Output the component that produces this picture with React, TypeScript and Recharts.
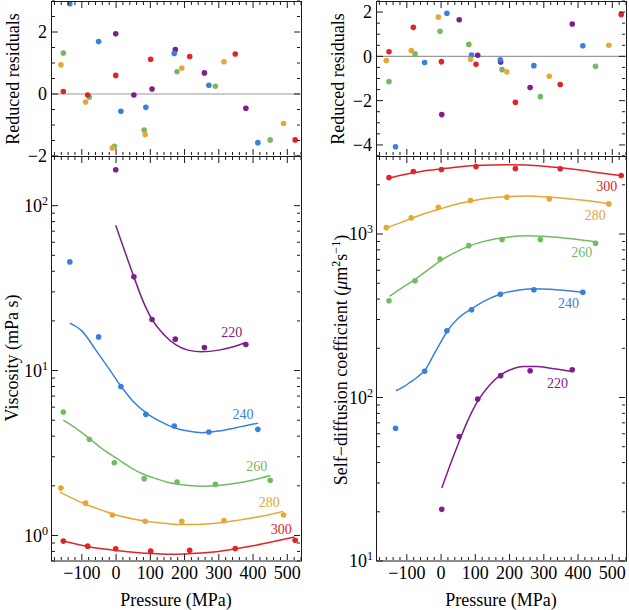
import React from 'react'
import { ComposedChart, Line, Scatter, XAxis, YAxis, ReferenceLine, ReferenceDot } from 'recharts'

// Viscosity / self-diffusion vs pressure at 220-300 K, with reduced residuals on top.

const FONT = "'Liberation Serif', 'DejaVu Serif', serif"
const INK = '#1a1a1a'
const W = 629
const H = 610

const temps = ['220', '240', '260', '280', '300']
const colors = ['#7d1e8a', '#3b7fdc', '#73bb62', '#e6a733', '#e2232a']

// ---- viscosity (mPa s) ----
const viscP220 = [-1, 52, 105, 173, 258, 379]
const viscV220 = [165, 37, 20.4, 15.5, 13.8, 14.4]
const viscR220 = [1.94, -0.03, 0.16, 1.43, 0.68, -0.46]
const viscP240 = [-135, -51, 14, 87, 170, 271, 414]
const viscV240 = [45.6, 16.0, 8.0, 5.42, 4.61, 4.24, 4.4]
const viscR240 = [2.91, 1.69, -0.56, -0.43, 1.31, 0.28, -1.57]
const viscP260 = [-154, -78, -5, 82, 178, 290, 450]
const viscV260 = [5.61, 3.83, 2.76, 2.21, 2.11, 2.04, 2.16]
const viscR260 = [1.32, -0.1, -1.69, -1.16, 0.72, 0.25, -1.48]
const viscP280 = [-161, -89, -11, 85, 192, 315, 489]
const viscV280 = [1.94, 1.57, 1.33, 1.22, 1.22, 1.23, 1.33]
const viscR280 = [0.945, -0.26, -1.74, -1.31, 0.84, 1.04, -0.95]
const viscP300 = [-154, -83, -1, 101, 215, 348, 523]
const viscV300 = [0.924, 0.861, 0.83, 0.803, 0.814, 0.834, 0.936]
const viscR300 = [0.08, -0.03, 0.6, 1.12, 1.21, 1.29, -1.48]

// fitted curves
const viscFitP220 = [-1, 20, 50, 80, 105, 140, 175, 210, 250, 300, 340, 379]
const viscFitV220 = [76, 57, 38, 26, 20.4, 16.5, 14.3, 13.3, 13.0, 13.3, 13.9, 14.8]
const viscFitP240 = [-135, -100, -60, -20, 15, 50, 90, 130, 170, 210, 250, 300, 350, 415]
const viscFitV240 = [19.4, 17.4, 13.4, 10.2, 8.0, 6.5, 5.5, 4.9, 4.5, 4.3, 4.2, 4.3, 4.5, 4.8]
const viscFitP260 = [-154, -120, -80, -40, 0, 40, 80, 120, 160, 200, 245, 300, 350, 400, 451]
const viscFitV260 = [5.0, 4.5, 3.9, 3.35, 2.95, 2.6, 2.35, 2.2, 2.08, 2.02, 1.99, 2.01, 2.07, 2.17, 2.31]
const viscFitP280 = [-164, -120, -80, -40, 0, 50, 100, 150, 200, 250, 300, 350, 400, 450, 488]
const viscFitV280 = [1.83, 1.65, 1.52, 1.42, 1.33, 1.26, 1.21, 1.18, 1.165, 1.17, 1.19, 1.23, 1.28, 1.34, 1.4]
const viscFitP300 = [-158, -120, -80, -40, 0, 50, 100, 150, 200, 250, 300, 350, 400, 450, 521]
const viscFitV300 = [0.93, 0.89, 0.855, 0.83, 0.81, 0.79, 0.777, 0.77, 0.772, 0.782, 0.8, 0.83, 0.865, 0.91, 0.98]

const viscLabelP = [338, 371, 411, 447, 482]
const viscLabelV = [17.1, 5.42, 2.62, 1.59, 1.1]

// ---- self-diffusion (um^2 s^-1) ----
const diffP220 = [2, 53, 107, 174, 260, 383]
const diffD220 = [20.7, 57.8, 97.8, 136, 145.7, 147.8]
const diffR220 = [-2.63, 1.65, 0.05, -0.25, -1.41, 1.46]
const diffP240 = [-133, -48, 17, 89, 173, 271, 414]
const diffD240 = [64.9, 144.6, 256, 344, 428, 456, 440]
const diffR240 = [-4.08, -0.28, 1.95, 0.06, -0.15, -0.42, 0.48]
const diffP260 = [-152, -76, -3, 81, 178, 290, 451]
const diffD260 = [391, 518, 704, 849, 924, 924, 878]
const diffR260 = [-1.14, 0.11, 1.13, 0.54, -0.6, -1.82, -0.45]
const diffP280 = [-160, -87, -8, 86, 192, 316, 490]
const diffD280 = [1094, 1255, 1459, 1601, 1680, 1641, 1528]
const diffR280 = [-0.19, 0.26, 1.77, -0.13, -0.7, -0.9, 0.5]
const diffP300 = [-152, -81, 1, 102, 217, 348, 526]
const diffD300 = [2213, 2410, 2478, 2590, 2514, 2505, 2280]
const diffR300 = [0.21, 1.31, -0.24, -0.36, -2.07, -1.27, 1.89]

const diffFitP220 = [2, 25, 50, 75, 107, 140, 175, 210, 240, 280, 320, 350, 383]
const diffFitD220 = [28, 38, 52, 70, 95, 118, 138, 150, 155, 155, 151, 148, 144]
const diffFitP240 = [-132, -110, -90, -70, -47, -20, 0, 20, 50, 90, 130, 175, 220, 270, 320, 370, 415]
const diffFitD240 = [110, 116, 124, 133, 147, 185, 220, 258, 305, 350, 393, 430, 452, 463, 460, 450, 440]
const diffFitP260 = [-151, -120, -80, -40, 0, 40, 80, 120, 160, 200, 250, 300, 350, 400, 452]
const diffFitD260 = [415, 460, 520, 600, 690, 770, 840, 895, 935, 960, 975, 970, 950, 925, 895]
const diffFitP280 = [-159, -120, -80, -40, 0, 50, 100, 150, 200, 250, 300, 350, 400, 450, 491]
const diffFitD280 = [1090, 1170, 1260, 1350, 1430, 1530, 1610, 1665, 1695, 1705, 1690, 1660, 1620, 1575, 1530]
const diffFitP300 = [-151, -100, -50, 0, 50, 100, 150, 200, 250, 300, 350, 400, 450, 527]
const diffFitD300 = [2200, 2330, 2430, 2500, 2570, 2620, 2645, 2650, 2640, 2600, 2540, 2470, 2390, 2270]

const diffLabelP = [340, 372, 411, 450, 484]
const diffLabelD = [122.5, 378, 780, 1309, 1950]

// ---- ticks ----
const xTicks = [-180, -160, -140, -120, -100, -80, -60, -40, -20, 0, 20, 40, 60, 80, 100, 120, 140, 160, 180, 200, 220, 240, 260, 280, 300, 320, 340, 360, 380, 400, 420, 440, 460, 480, 500, 520, 540]
const resTicksL = [-2, -1.5, -1, -0.5, 0, 0.5, 1, 1.5, 2, 2.5, 3]
const resTicksR = [-4.5, -4, -3.5, -3, -2.5, -2, -1.5, -1, -0.5, 0, 0.5, 1, 1.5, 2, 2.5]
const viscTicks = [0.7, 0.8, 0.9, 1, 2, 3, 4, 5, 6, 7, 8, 9, 10, 20, 30, 40, 50, 60, 70, 80, 90, 100, 200]
const diffTicks = [10, 20, 30, 40, 50, 60, 70, 80, 90, 100, 200, 300, 400, 500, 600, 700, 800, 900, 1000, 2000, 3000]

const zip = (ps: number[], vs: number[]) => ps.map((p, i) => ({ p, v: vs[i] }))

const viscPts = [zip(viscP220, viscV220), zip(viscP240, viscV240), zip(viscP260, viscV260), zip(viscP280, viscV280), zip(viscP300, viscV300)]
const viscRes = [zip(viscP220, viscR220), zip(viscP240, viscR240), zip(viscP260, viscR260), zip(viscP280, viscR280), zip(viscP300, viscR300)]
const viscFit = [zip(viscFitP220, viscFitV220), zip(viscFitP240, viscFitV240), zip(viscFitP260, viscFitV260), zip(viscFitP280, viscFitV280), zip(viscFitP300, viscFitV300)]
const diffPts = [zip(diffP220, diffD220), zip(diffP240, diffD240), zip(diffP260, diffD260), zip(diffP280, diffD280), zip(diffP300, diffD300)]
const diffRes = [zip(diffP220, diffR220), zip(diffP240, diffR240), zip(diffP260, diffR260), zip(diffP280, diffR280), zip(diffP300, diffR300)]
const diffFit = [zip(diffFitP220, diffFitD220), zip(diffFitP240, diffFitD240), zip(diffFitP260, diffFitD260), zip(diffFitP280, diffFitD280), zip(diffFitP300, diffFitD300)]

const fmt = (v: number) => (v < 0 ? '\u2212' + Math.abs(v) : String(v))
const isPow10 = (v: number) => Math.abs(Math.log10(v) - Math.round(Math.log10(v))) < 1e-9

const MAJ = 6
const MIN = 3
// axes get a 1px box; ticks are drawn from the plot edge inward
const AX = 1

const xBottomTick = (labels: boolean) => (props: any) => {
  const { x, y, payload } = props
  const y0 = y - AX
  const major = payload.value % 100 === 0
  return (
    <g>
      <line x1={x} x2={x} y1={y0} y2={y0 - (major ? MAJ : MIN)} stroke={INK} />
      {labels && major && (
        <text x={x} y={y0 + 19} textAnchor="middle" fontSize={18} fontFamily={FONT} fill="#000">{fmt(payload.value)}</text>
      )}
    </g>
  )
}
const xTopTick = (props: any) => {
  const { x, y, payload } = props
  const y0 = y + AX
  const major = payload.value % 100 === 0
  return <line x1={x} x2={x} y1={y0} y2={y0 + (major ? MAJ : MIN)} stroke={INK} />
}
const resLeftTick = (props: any) => {
  const { x, y, payload } = props
  const x0 = x + AX
  const major = payload.value % 2 === 0
  return (
    <g>
      <line x1={x0} x2={x0 + (major ? MAJ : MIN)} y1={y} y2={y} stroke={INK} />
      {major && (
        <text x={x0 - 5} y={y} dy="0.35em" textAnchor="end" fontSize={18} fontFamily={FONT} fill="#000">{fmt(payload.value)}</text>
      )}
    </g>
  )
}
const resRightTick = (props: any) => {
  const { x, y, payload } = props
  const x0 = x - AX
  const major = payload.value % 2 === 0
  return <line x1={x0} x2={x0 - (major ? MAJ : MIN)} y1={y} y2={y} stroke={INK} />
}
const logLeftTick = (props: any) => {
  const { x, y, payload } = props
  const x0 = x + AX
  const major = isPow10(payload.value)
  return (
    <g>
      <line x1={x0} x2={x0 + (major ? MAJ : MIN)} y1={y} y2={y} stroke={INK} />
      {major && (
        <text x={x0 - 4} y={y} dy="0.35em" textAnchor="end" fontSize={18} fontFamily={FONT} fill="#000">
          10<tspan dy={-7} fontSize={12}>{Math.round(Math.log10(payload.value))}</tspan>
        </text>
      )}
    </g>
  )
}
const logRightTick = (props: any) => {
  const { x, y, payload } = props
  const x0 = x - AX
  const major = isPow10(payload.value)
  return <line x1={x0} x2={x0 - (major ? MAJ : MIN)} y1={y} y2={y} stroke={INK} />
}

const labelShape = (text: string, color: string) => (props: any) => (
  <text x={props.cx} y={props.cy} dy="0.35em" textAnchor="middle" fontSize={14} fontFamily={FONT} fill={color}>{text}</text>
)

const dotShape = (color: string) => (props: any) => <circle cx={props.cx} cy={props.cy} r={2.8} fill={color} />

const chartStyle: React.CSSProperties = { position: 'absolute', left: 0, top: 0 }

interface PanelOpts {
  // plot box edges in page pixels
  box: { top: number; right: number; bottom: number; left: number }
  yDomain: [number, number]
  yTicks: number[]
  log?: boolean
  xLabels: boolean
  points: { p: number; v: number }[][]
  fits?: { p: number; v: number }[][]
  labelP?: number[]
  labelV?: number[]
  zeroLine?: boolean
}

function panel(o: PanelOpts) {
  const axisLine = { stroke: INK, strokeWidth: 1 }
  const margin = { top: o.box.top - AX, left: o.box.left - AX, right: W - o.box.right - AX, bottom: H - o.box.bottom - AX }
  return (
    <ComposedChart width={W} height={H} margin={margin} style={chartStyle}>
      <XAxis xAxisId="b" type="number" dataKey="p" domain={[-190, 540]} ticks={xTicks} interval={0}
        allowDataOverflow height={AX} tickSize={0} tickMargin={0} tickLine={false} axisLine={false}
        tick={xBottomTick(o.xLabels)} />
      <XAxis xAxisId="t" orientation="top" type="number" dataKey="p" domain={[-190, 540]} ticks={xTicks} interval={0}
        allowDataOverflow height={AX} tickSize={0} tickMargin={0} tickLine={false} axisLine={false}
        tick={xTopTick} />
      <YAxis yAxisId="l" type="number" dataKey="v" domain={o.yDomain} scale={o.log ? 'log' : 'linear'} ticks={o.yTicks}
        interval={0} allowDataOverflow width={AX} tickSize={0} tickMargin={0} tickLine={false} axisLine={false}
        tick={o.log ? logLeftTick : resLeftTick} />
      <YAxis yAxisId="r" orientation="right" type="number" dataKey="v" domain={o.yDomain} scale={o.log ? 'log' : 'linear'}
        ticks={o.yTicks} interval={0} allowDataOverflow width={AX} tickSize={0} tickMargin={0} tickLine={false}
        axisLine={false} tick={o.log ? logRightTick : resRightTick} />
      {o.zeroLine && <ReferenceLine xAxisId="b" yAxisId="l" y={0} stroke="#9a9a9a" strokeWidth={1.2} />}
      {o.fits && o.fits.map((d, i) => (
        <Line key={'f' + i} xAxisId="b" yAxisId="l" data={d} dataKey="v" type="monotone" stroke={colors[i]}
          strokeWidth={1.5} dot={false} isAnimationActive={false} />
      ))}
      {o.points.map((d, i) => (
        <Scatter key={'s' + i} xAxisId="b" yAxisId="l" data={d} dataKey="v" fill={colors[i]}
          shape={dotShape(colors[i])} isAnimationActive={false} />
      ))}
      {o.labelP && o.labelV && o.labelP.map((p, i) => (
        <ReferenceDot key={'l' + i} xAxisId="b" yAxisId="l" x={p} y={o.labelV![i]} r={0} ifOverflow="visible"
          shape={labelShape(temps[i], colors[i])} />
      ))}
    </ComposedChart>
  )
}

const VTitle = ({ x, y, children }: { x: number; y: number; children: React.ReactNode }) => (
  <div style={{ position: 'absolute', left: x, top: y, transform: 'translate(-50%, -50%) rotate(-90deg)',
    whiteSpace: 'nowrap', fontSize: 18, lineHeight: '20px' }}>{children}</div>
)
const HTitle = ({ x, y, children }: { x: number; y: number; children: React.ReactNode }) => (
  <div style={{ position: 'absolute', left: x, top: y, transform: 'translate(-50%, -50%)',
    whiteSpace: 'nowrap', fontSize: 18, lineHeight: '20px' }}>{children}</div>
)

// frame rectangles drawn as plain svg on top of the charts
const Frames = () => (
  <svg width={W} height={H} style={{ position: 'absolute', left: 0, top: 0, pointerEvents: 'none' }}>
    <rect x={51.5} y={1.5} width={250} height={404.5 + 155} fill="none" stroke={INK} />
    <rect x={376.5} y={1.5} width={250} height={404.5 + 155} fill="none" stroke={INK} />
    <line x1={51.5} x2={301.5} y1={156.5} y2={156.5} stroke={INK} />
    <line x1={376.5} x2={626.5} y1={156.5} y2={156.5} stroke={INK} />
  </svg>
)

export default function App() {
  return (
    <div style={{ position: 'absolute', left: 0, top: 0, width: W, height: H, background: '#fff', fontFamily: FONT, color: '#000', overflow: 'hidden' }}>
      {panel({ box: { top: 1, right: 301, bottom: 156, left: 51 }, yDomain: [-2, 3], yTicks: resTicksL, xLabels: false, points: viscRes, zeroLine: true })}
      {panel({ box: { top: 1, right: 626, bottom: 156, left: 376 }, yDomain: [-4.5, 2.5], yTicks: resTicksR, xLabels: false, points: diffRes, zeroLine: true })}
      {panel({ box: { top: 156, right: 301, bottom: 561, left: 51 }, yDomain: [0.7, 200], yTicks: viscTicks, log: true, xLabels: true, points: viscPts, fits: viscFit, labelP: viscLabelP, labelV: viscLabelV })}
      {panel({ box: { top: 156, right: 626, bottom: 561, left: 376 }, yDomain: [10, 3000], yTicks: diffTicks, log: true, xLabels: true, points: diffPts, fits: diffFit, labelP: diffLabelP, labelV: diffLabelD })}
      <Frames />
      <VTitle x={13} y={79}>Reduced residuals</VTitle>
      <VTitle x={338} y={79}>Reduced residuals</VTitle>
      <VTitle x={12} y={358}>Viscosity (mPa s)</VTitle>
      <VTitle x={338} y={360}>
        Self{'\u2212'}diffusion coefficient (<i>μ</i>m<sup style={{ fontSize: 12 }}>2</sup>s<sup style={{ fontSize: 12 }}>{'\u2212'}1</sup>)
      </VTitle>
      <HTitle x={176} y={600}>Pressure (MPa)</HTitle>
      <HTitle x={501} y={600}>Pressure (MPa)</HTitle>
    </div>
  )
}
